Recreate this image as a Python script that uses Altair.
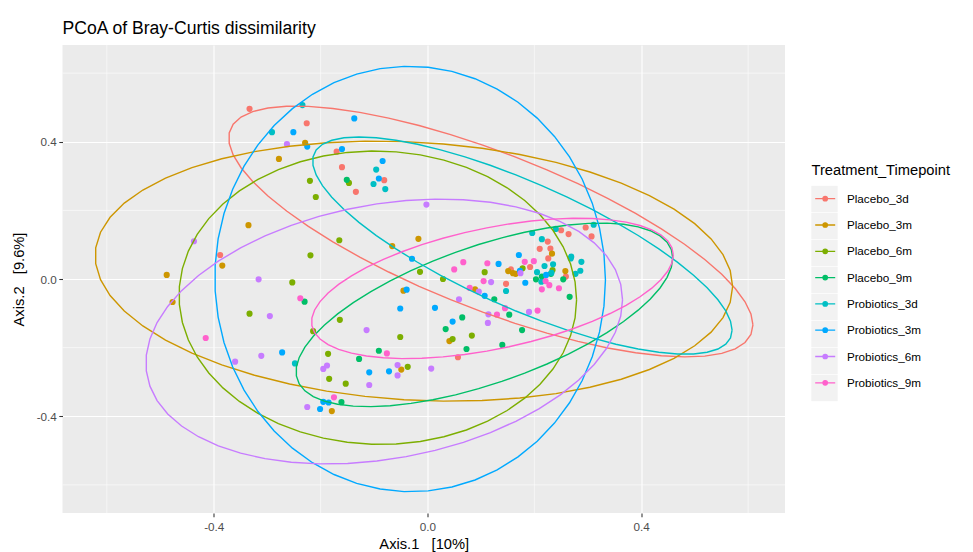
import altair as alt
import pandas as pd
import numpy as np

groups = ["Placebo_3d", "Placebo_3m", "Placebo_6m", "Placebo_9m",
          "Probiotics_3d", "Probiotics_3m", "Probiotics_6m", "Probiotics_9m"]
colors = ["#F8766D", "#CD9600", "#7CAE00", "#00BE67",
          "#00BFC4", "#00A9FF", "#C77CFF", "#FF61CC"]

# ---- sample scores (Axis.1, Axis.2) per group ----
pl3d_x = [-0.333, -0.226, -0.170, -0.160, -0.081, -0.134, -0.388, 0.147, 0.210, 0.192,
          0.156, 0.057, 0.250, 0.264, 0.296, 0.307, 0.225, 0.230, 0.226, 0.259]
pl3d_y = [0.496, 0.454, 0.371, 0.326, 0.288, 0.254, 0.070, -0.014, 0.088, 0.035,
          0.028, -0.228, 0.142, 0.131, 0.150, 0.124, 0.109, 0.089, 0.060, 0.007]

pl3m_x = [-0.278, -0.229, -0.335, -0.384, -0.488, -0.477, -0.066, -0.017, -0.045, 0.041,
          0.089, 0.151, 0.160, 0.165, 0.233, 0.258, -0.049, -0.179]
pl3m_y = [0.350, 0.397, 0.157, 0.039, 0.012, -0.067, 0.096, 0.117, -0.034, -0.181,
          -0.030, 0.023, 0.017, 0.015, 0.074, 0.023, -0.264, -0.385]

pl6m_x = [-0.220, -0.147, -0.209, -0.253, -0.333, -0.165, -0.219, -0.014, 0.029, -0.164,
          -0.214, -0.051, 0.047, 0.083, 0.107, 0.178, -0.186, -0.184, -0.153, -0.037, 0.234]
pl6m_y = [0.286, 0.280, 0.239, -0.010, -0.101, 0.113, 0.069, 0.021, 0.000, -0.119,
          -0.152, -0.169, -0.175, -0.165, 0.020, 0.031, -0.218, -0.291, -0.305, -0.256, 0.026]

pl9m_x = [-0.151, -0.230, 0.065, 0.034, 0.073, 0.140, 0.177, 0.125, 0.153, 0.203,
          0.214, -0.128, -0.091, -0.161, 0.231, 0.254, 0.266]
pl9m_y = [0.289, -0.066, -0.112, -0.146, -0.204, -0.192, -0.149, -0.059, -0.104, -0.001,
          0.007, -0.233, -0.209, -0.359, 0.015, -0.001, -0.052]

pr3d_x = [-0.291, -0.234, -0.096, -0.101, -0.079, -0.248, 0.147, 0.196, 0.214, 0.205,
          0.213, 0.240, 0.311, 0.269, 0.288, 0.235, 0.219, 0.232, 0.277, 0.286, 0.268]
pr3d_y = [0.428, 0.507, 0.319, 0.277, 0.262, -0.246, -0.035, 0.134, 0.116, 0.020,
          -0.008, 0.146, 0.158, 0.065, 0.050, 0.043, 0.038, 0.018, 0.015, 0.024, 0.060]

pr3m_x = [-0.251, -0.137, -0.225, -0.160, -0.084, -0.091, -0.272, -0.029, -0.039, -0.051,
          0.014, 0.047, 0.133, 0.107, 0.171, 0.173, 0.183, 0.222, -0.109, -0.072,
          -0.195, -0.185, -0.201]
pr3m_y = [0.428, 0.468, 0.386, 0.379, 0.344, 0.293, -0.214, 0.059, -0.031, -0.086,
          -0.084, -0.124, 0.044, -0.049, 0.070, 0.024, -0.011, 0.012, -0.272, -0.269,
          -0.358, -0.360, -0.379]

pr6m_x = [-0.263, -0.002, -0.437, -0.316, -0.295, -0.311, -0.360, 0.059, -0.114, 0.119,
          0.096, 0.114, 0.113, 0.190, 0.174, -0.195, -0.188, -0.109, -0.056, -0.056,
          0.007, -0.225]
pr6m_y = [0.393, 0.217, 0.110, -0.001, -0.108, -0.224, -0.241, -0.059, -0.149, -0.009,
          -0.037, -0.103, -0.128, -0.096, 0.017, -0.262, -0.252, -0.309, -0.251, -0.281,
          -0.261, -0.373]

pr9m_x = [-0.238, -0.415, 0.067, 0.050, 0.112, 0.105, 0.079, 0.145, 0.130, 0.206,
          0.182, 0.199, 0.214, -0.076, -0.175, 0.221, 0.228, 0.246]
pr9m_y = [-0.056, -0.172, 0.049, 0.028, 0.046, -0.006, -0.026, -0.085, -0.104, -0.092,
          0.050, 0.052, -0.030, -0.217, -0.345, -0.006, -0.018, -0.027]

xs = [pl3d_x, pl3m_x, pl6m_x, pl9m_x, pr3d_x, pr3m_x, pr6m_x, pr9m_x]
ys = [pl3d_y, pl3m_y, pl6m_y, pl9m_y, pr3d_y, pr3m_y, pr6m_y, pr9m_y]

# ---- confidence ellipse extents per group (data units) ----
ell_xmin = [-0.372, -0.622, -0.465, -0.246, -0.215, -0.398, -0.527, -0.217]
ell_xmax = [0.609, 0.571, 0.279, 0.459, 0.570, 0.333, 0.365, 0.460]
ell_ymin = [-0.227, -0.356, -0.482, -0.372, -0.219, -0.620, -0.539, -0.232]
ell_ymax = [0.504, 0.402, 0.373, 0.163, 0.414, 0.620, 0.233, 0.177]
ell_y_at_xmax = [-0.134, -0.022, -0.061, 0.061, -0.149, -0.003, -0.061, 0.070]

# tick / grid values
major_ticks = [-0.4, 0.0, 0.4]
minor_grid = [-0.6, -0.2, 0.2, 0.6]
x_domain = [-0.683, 0.669]
y_domain = [-0.682, 0.682]

key_names = [g + "_key" for g in groups]

pts = pd.DataFrame([
    {"group": g, "key": k, "x": xv, "y": yv}
    for g, k, gx, gy in zip(groups, key_names, xs, ys) for xv, yv in zip(gx, gy)
])

rows = []
for g, x0, x1, y0, y1, yr in zip(groups, ell_xmin, ell_xmax, ell_ymin, ell_ymax, ell_y_at_xmax):
    cx, cy = (x0 + x1) / 2, (y0 + y1) / 2
    W, H = (x1 - x0) / 2, (y1 - y0) / 2
    phi = np.arccos(np.clip((yr - cy) / H, -1, 1))
    for i, t in enumerate(np.linspace(0, 2 * np.pi, 52)):
        rows.append({"group": g, "i": i, "x": cx + W * np.cos(t), "y": cy + H * np.cos(t - phi)})
ell = pd.DataFrame(rows)

FONT = "Liberation Sans"
label_expr = "datum.value < 0 ? '-' + format(-datum.value, '.1f') : format(datum.value, '.1f')"

xscale = alt.Scale(domain=x_domain, nice=False, zero=False)
yscale = alt.Scale(domain=y_domain, nice=False, zero=False)

xaxis = alt.Axis(values=major_ticks, labelExpr=label_expr, title="Axis.1\u00a0\u00a0 [10%]",
                 grid=True, gridColor="white", gridWidth=1.1, domain=False,
                 tickColor="#333333", tickSize=3.7, tickWidth=1.07,
                 labelFont=FONT, labelFontSize=11.7, labelColor="#4D4D4D", labelPadding=4.5,
                 titleFont=FONT, titleFontSize=14.7, titleFontWeight="normal", titleColor="black",
                 titleBaseline="alphabetic", titleY=35.5, titleX=361.25)
yaxis = alt.Axis(values=major_ticks, labelExpr=label_expr, title="Axis.2\u00a0\u00a0 [9.6%]",
                 grid=True, gridColor="white", gridWidth=1.1, domain=False,
                 tickColor="#333333", tickSize=3.7, tickWidth=1.07,
                 labelFont=FONT, labelFontSize=11.7, labelColor="#4D4D4D", labelPadding=2.5,
                 titleFont=FONT, titleFontSize=14.7, titleFontWeight="normal", titleColor="black",
                 titleAngle=-90, titleBaseline="alphabetic", titleX=-39, titleY=234)

sym_path = "M-1,0L1,0M-0.22,0A0.22,0.22,0,1,0,0.22,0A0.22,0.22,0,1,0,-0.22,0Z"
legend = alt.Legend(title="Treatment_Timepoint", orient="none", legendX=749, legendY=118,
                    symbolType=sym_path, symbolSize=400, symbolStrokeWidth=1.3,
                    symbolOffset=2.7, labelOffset=10.7, symbolOpacity=1,
                    titleFont=FONT, titleFontSize=14.7, titleFontWeight="normal", titleColor="black",
                    titlePadding=10, rowPadding=8.3, zindex=2,
                    labelFont=FONT, labelFontSize=11.7, labelColor="black")
color = alt.Color("group:N", scale=alt.Scale(domain=groups, range=colors), legend=legend)

# legend key backgrounds (grey95 boxes behind each key)
key_legend = alt.Legend(title=None, orient="none", legendX=748.5, legendY=140.5,
                        symbolType="square", symbolSize=692, symbolFillColor="#F2F2F2",
                        symbolStrokeColor="#F2F2F2", symbolStrokeWidth=0, symbolOpacity=1,
                        labelExpr="''", labelFontSize=1, rowPadding=0, zindex=1)
key_bg = alt.Opacity("key:N", scale=alt.Scale(domain=key_names, range=[1] * len(key_names)),
                     legend=key_legend)

vgrid = alt.Chart(pd.DataFrame({"v": minor_grid})).mark_rule(color="white", strokeWidth=0.55).encode(
    x=alt.X("v:Q", scale=xscale, axis=xaxis))
hgrid = alt.Chart(pd.DataFrame({"v": minor_grid})).mark_rule(color="white", strokeWidth=0.55).encode(
    y=alt.Y("v:Q", scale=yscale, axis=yaxis))

points = alt.Chart(pts).mark_circle(size=38).encode(
    x=alt.X("x:Q", scale=xscale, axis=xaxis),
    y=alt.Y("y:Q", scale=yscale, axis=yaxis),
    color=color,
    opacity=key_bg)

lines = alt.Chart(ell).mark_line(strokeWidth=1.4).encode(
    x=alt.X("x:Q", scale=xscale, axis=xaxis),
    y=alt.Y("y:Q", scale=yscale, axis=yaxis),
    color=color,
    detail="group:N",
    order="i:Q")

chart = alt.layer(vgrid, hgrid, points, lines).properties(
    width=722.5, height=468,
    autosize="none",
    padding={"left": 62.5, "top": 45, "right": 188, "bottom": 39},
    title=alt.Title("PCoA of Bray-Curtis dissimilarity", anchor="start", frame="group",
                    font=FONT, fontSize=17.6, fontWeight="normal", color="black",
                    baseline="alphabetic", offset=13.3, dy=20),
).configure(background="white").configure_view(fill="#EBEBEB", stroke=None)

chart.save("out.html", embed_options={"renderer": "svg", "actions": False})
